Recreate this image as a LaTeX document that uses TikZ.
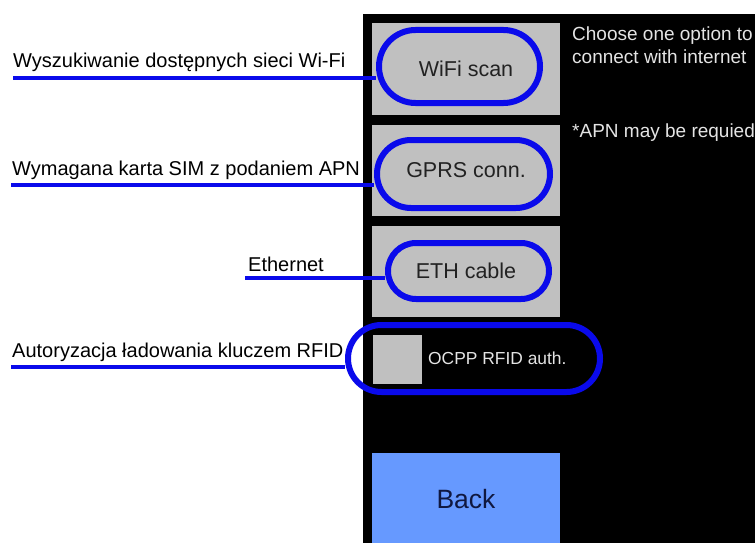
\documentclass[tikz,border=0pt]{standalone}
\usepackage{fontspec}
\setmainfont{Liberation Sans}
\usepackage{tikz}
\usetikzlibrary{shapes.misc}
\definecolor{panelbg}{RGB}{0,0,0}
\definecolor{btngray}{RGB}{192,192,192}
\definecolor{btntext}{RGB}{34,34,34}
\definecolor{backblue}{RGB}{102,153,255}
\definecolor{backtext}{RGB}{16,24,64}
\definecolor{markblue}{RGB}{10,10,235}
\definecolor{uitext}{RGB}{228,228,228}
\newcommand{\labelfont}{\fontsize{20}{24}\selectfont}
\newcommand{\btnfont}{\fontsize{21.5}{26}\selectfont}
\newcommand{\infofont}{\fontsize{19}{23}\selectfont}
\tikzset{
  uibutton/.style={fill=btngray, minimum width=188, minimum height=91,
    inner sep=0pt, font=\btnfont, text=btntext},
  backbutton/.style={fill=backblue, minimum width=188, minimum height=92,
    inner sep=0pt, font=\fontsize{26.5}{30}\selectfont, text=backtext},
  checkbox/.style={fill=btngray, minimum size=49, inner sep=0pt},
  infotext/.style={anchor=north west, align=left, inner sep=0pt,
    font=\infofont, text=uitext},
  highlight/.style={rounded rectangle, draw=markblue, line width=6pt,
    inner sep=0pt},
  sidelabel/.style={anchor=base west, inner sep=0pt, font=\labelfont},
  lead/.style={draw=markblue, line width=4pt}
}

\begin{document}
\begin{tikzpicture}[x=1pt,y=-1pt]
  \useasboundingbox (0,0) rectangle (755,543);
  % screen
  \fill[panelbg] (363,14) rectangle (755,543);

  \node[uibutton] (wifibtn) at (466,69) {WiFi scan};
  \node[uibutton] (gprsbtn) at (466,170) {GPRS conn.};
  \node[uibutton] (ethbtn) at (466,271) {ETH cable};
  \node[checkbox] (rfidbox) at (397.5,359.5) {};
  \node[anchor=west, inner sep=0pt, font=\fontsize{17.4}{20}\selectfont,
    text=uitext] (rfidtext) at (428,358) {OCPP RFID auth.};
  \node[backbutton] (backbtn) at (466,499) {Back};

  \node[infotext] (hint) at (572,27) {Choose one option to\\connect with internet};
  \node[infotext] (apnnote) at (572,124) {*APN may be requied};

  % highlights
  \node[highlight, minimum width=161, minimum height=73] (wifipill) at (459.5,66.5) {};
  \node[highlight, minimum width=173, minimum height=68] (gprspill) at (463.5,174) {};
  \node[highlight, minimum width=161, minimum height=56] (ethpill) at (468.5,271) {};
  \node[highlight, minimum width=252, minimum height=67] (rfidpill) at (474,358.5) {};

  % descriptions
  \node[sidelabel] (wifilbl) at (13,67) {Wyszukiwanie dostępnych sieci Wi-Fi};
  \node[sidelabel] (gprslbl) at (12,175) {Wymagana karta SIM z podaniem APN};
  \node[sidelabel] (ethlbl) at (248,271) {Ethernet};
  \node[sidelabel] (rfidlbl) at (12,357) {Autoryzacja ładowania kluczem RFID};

  \coordinate (wifilead) at (13,78);
  \coordinate (gprslead) at (11,185);
  \coordinate (ethlead) at (245,278);
  \coordinate (rfidlead) at (11,367);
  \draw[lead] (wifilead) -- (wifilead -| wifipill.west);
  \draw[lead] (gprslead) -- (gprslead -| gprspill.west);
  \draw[lead] (ethlead) -- (ethlead -| ethpill.west);
  \draw[lead] (rfidlead) -- (rfidlead -| rfidpill.west);
\end{tikzpicture}
\end{document}
